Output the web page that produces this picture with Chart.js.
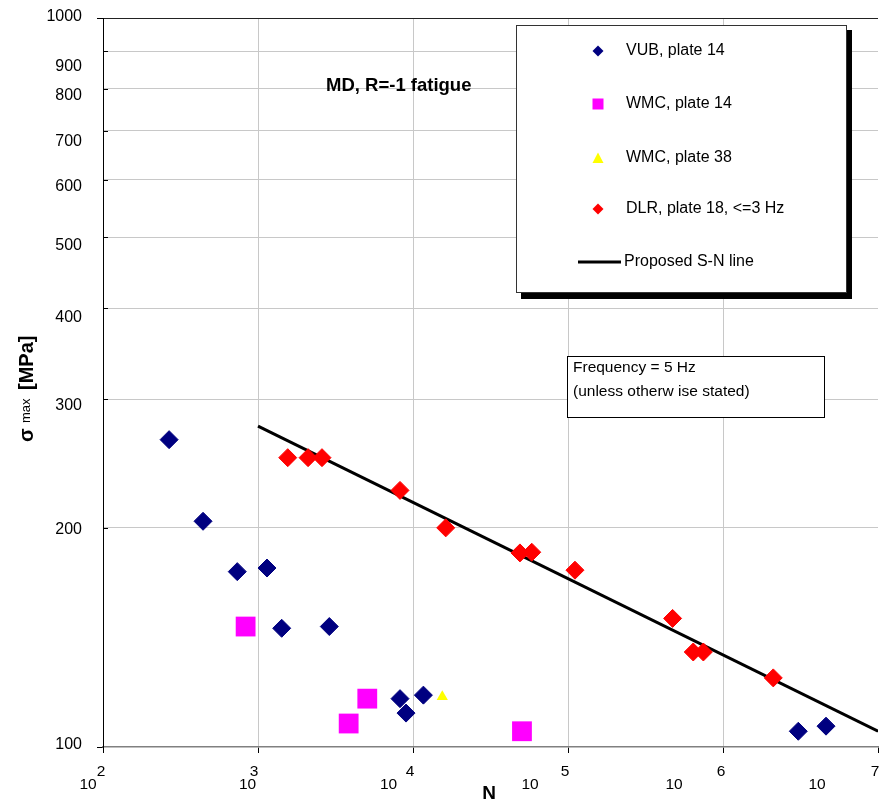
<!DOCTYPE html>
<html>
<head>
<meta charset="utf-8">
<title>MD, R=-1 fatigue</title>
<script src="https://cdn.jsdelivr.net/npm/chart.js@4.4.1/dist/chart.umd.min.js"></script>
<style>
  html, body { margin: 0; padding: 0; background: #fff; }
  #wrap { width: 880px; height: 807px; }
</style>
</head>
<body>
<div id="wrap"><canvas id="grafico" width="880" height="807"></canvas></div>
<script>
// =========================================================
// DATA  N = cycles, S = sigma max [MPa]
// =========================================================
const vubN = [267, 442, 735, 1143, 1422, 2884, 8245, 9016, 11670, 3060000, 4620000];
const vubS = [264, 204, 174, 176, 145.5, 146.3, 116.5, 111.3, 117.8, 105.1, 106.8];

const wmc14N = [832, 5070, 3845, 50470];
const wmc14S = [146.3, 116.5, 107.7, 105.1];

const wmc38N = [15450];
const wmc38S = [117.2];

const dlrN = [1556, 2104, 2587, 8245, 16260, 48980, 58350, 110900, 473000, 642700, 746800, 2110000];
const dlrS = [249.4, 249.4, 249.4, 224.9, 199.8, 184.6, 185, 174.8, 150.1, 135, 135, 124.4];

const lineN = [1000, 10000000];
const lineS = [275.5, 105.1];

const xTicks = [1e2, 1e3, 1e4, 1e5, 1e6, 1e7];
const xTickExp = ['2', '3', '4', '5', '6', '7'];
const yTicks = [100, 200, 300, 400, 500, 600, 700, 800, 900, 1000];

const seriesLabels = ['VUB, plate 14', 'WMC, plate 14', 'WMC, plate 38', 'DLR, plate 18, <=3 Hz', 'Proposed S-N line'];

// =========================================================
// STYLE / PLACEMENT (offsets of the hand-placed labels)
// =========================================================
const FONT = '"Liberation Sans", Arial, sans-serif';
const X_BASE_DX = [-15, -10.5, -24.5, -38, -49, -61];
const X_EXP_DX = [-2, -4, -3, -3, -2, -3];
const Y_LABEL_DY = [-2, 2, 6, 9, 8, 7, 11, 7, 15, -1];
const LEGEND_ROWS = [51, 104, 158, 209, 262];

const pts = (xs, ys) => xs.map((v, i) => ({ x: v, y: ys[i] }));

function drawMark(ctx, style, x, y, r, color) {
    ctx.save();
    ctx.fillStyle = color;
    ctx.beginPath();
    if (style === 'rectRot') {
        ctx.moveTo(x - r, y); ctx.lineTo(x, y - r); ctx.lineTo(x + r, y); ctx.lineTo(x, y + r);
    } else if (style === 'rect') {
        ctx.rect(x - r, y - r, 2 * r, 2 * r);
    } else if (style === 'triangle') {
        ctx.moveTo(x, y - r); ctx.lineTo(x + r, y + r * 0.9); ctx.lineTo(x - r, y + r * 0.9);
    }
    ctx.closePath();
    ctx.fill();
    ctx.restore();
}

// --- plugin: tick labels, titles, legend box, note box ---
const decoracao = {
    id: 'decoracao',
    afterDraw(chart) {
        const { ctx, scales: { x, y }, chartArea } = chart;
        ctx.save();
        ctx.fillStyle = '#000';

        // small inner ticks on the y axis
        ctx.strokeStyle = '#000';
        ctx.lineWidth = 1;
        yTicks.forEach(v => {
            if (v === 100 || v === 1000) return;
            const py = Math.round(y.getPixelForValue(v)) + 0.5;
            ctx.beginPath();
            ctx.moveTo(chartArea.left, py);
            ctx.lineTo(chartArea.left + 5, py);
            ctx.stroke();
        });

        // y tick labels
        ctx.font = '16px ' + FONT;
        ctx.textAlign = 'right';
        ctx.textBaseline = 'middle';
        yTicks.forEach((v, i) => {
            ctx.fillText(String(v), 82, y.getPixelForValue(v) + Y_LABEL_DY[i]);
        });

        // x tick labels: "10" with exponent
        ctx.textAlign = 'center';
        xTicks.forEach((v, i) => {
            const px = x.getPixelForValue(v);
            ctx.font = '15.5px ' + FONT;
            ctx.fillText('10', px + X_BASE_DX[i], 785);
            ctx.fillText(xTickExp[i], px + X_EXP_DX[i], 772);
        });

        // x axis title
        ctx.font = 'bold 19px ' + FONT;
        ctx.fillText('N', 489, 794);

        // y axis title (rotated)
        ctx.save();
        ctx.translate(33, 442);
        ctx.rotate(-Math.PI / 2);
        ctx.textAlign = 'left';
        ctx.textBaseline = 'alphabetic';
        ctx.font = 'bold 20px ' + FONT;
        ctx.fillText('σ', 0, 0);
        ctx.font = '13px ' + FONT;
        ctx.fillText('max', 19, -3);
        ctx.font = 'bold 20px ' + FONT;
        ctx.fillText('[MPa]', 52, 0);
        ctx.restore();

        // chart caption inside plot
        ctx.textAlign = 'left';
        ctx.textBaseline = 'middle';
        ctx.font = 'bold 18.5px ' + FONT;
        ctx.fillText('MD, R=-1 fatigue', 326, 86);

        // legend box with shadow
        ctx.fillStyle = '#000';
        ctx.fillRect(521, 30, 331, 269);
        ctx.fillStyle = '#fff';
        ctx.fillRect(516, 25, 331, 268);
        ctx.strokeStyle = '#333';
        ctx.lineWidth = 1;
        ctx.strokeRect(516.5, 25.5, 330, 267);

        chart.data.datasets.forEach((ds, i) => {
            const ry = LEGEND_ROWS[i];
            if (ds.showLine) {
                ctx.strokeStyle = ds.borderColor;
                ctx.lineWidth = 3;
                ctx.beginPath();
                ctx.moveTo(578, ry);
                ctx.lineTo(621, ry);
                ctx.stroke();
            } else {
                drawMark(ctx, ds.pointStyle, 598, ry, 5.5, ds.backgroundColor);
            }
            ctx.fillStyle = '#000';
            ctx.font = '16px ' + FONT;
            ctx.fillText(ds.label, ds.showLine ? 624 : 626, ry);
        });

        // frequency note
        ctx.fillStyle = '#fff';
        ctx.fillRect(567, 356, 258, 62);
        ctx.strokeStyle = '#000';
        ctx.lineWidth = 1;
        ctx.strokeRect(567.5, 356.5, 257, 61);
        ctx.fillStyle = '#000';
        ctx.font = '15.5px ' + FONT;
        ctx.fillText('Frequency = 5 Hz', 573, 368);
        ctx.fillText('(unless otherw ise stated)', 573, 392);

        ctx.restore();
    }
};

new Chart(document.getElementById('grafico'), {
    type: 'scatter',
    data: {
        datasets: [
            {
                label: seriesLabels[0],
                data: pts(vubN, vubS),
                pointStyle: 'rectRot',
                pointRadius: 9,
                backgroundColor: '#000080',
                borderColor: '#000080',
                borderWidth: 1,
                order: 0
            },
            {
                label: seriesLabels[1],
                data: pts(wmc14N, wmc14S),
                pointStyle: 'rect',
                pointRadius: 14,
                backgroundColor: '#FF00FF',
                borderColor: '#FF00FF',
                borderWidth: 0,
                order: 0
            },
            {
                label: seriesLabels[2],
                data: pts(wmc38N, wmc38S),
                pointStyle: 'triangle',
                pointRadius: 6.5,
                backgroundColor: '#FFFF00',
                borderColor: '#FFFF00',
                borderWidth: 0,
                order: 0
            },
            {
                label: seriesLabels[3],
                data: pts(dlrN, dlrS),
                pointStyle: 'rectRot',
                pointRadius: 9,
                backgroundColor: '#FF0000',
                borderColor: '#FF0000',
                borderWidth: 1,
                order: 0
            },
            {
                label: seriesLabels[4],
                data: pts(lineN, lineS),
                showLine: true,
                pointRadius: 0,
                borderColor: '#000000',
                backgroundColor: '#000000',
                borderWidth: 3,
                order: 1
            }
        ]
    },
    options: {
        responsive: false,
        animation: false,
        events: [],
        layout: { autoPadding: false, padding: { top: 18, right: 2, left: 0, bottom: 0 } },
        plugins: {
            legend: { display: false },
            tooltip: { enabled: false }
        },
        scales: {
            x: {
                type: 'logarithmic',
                min: 1e2,
                max: 1e7,
                afterBuildTicks: s => { s.ticks = xTicks.map(v => ({ value: v })); },
                afterFit: s => { s.height = 60; },
                ticks: { display: false },
                grid: {
                    color: c => (c.tick && (c.tick.value === 1e2 || c.tick.value === 1e7)) ? 'rgba(0,0,0,0)' : '#c8c8c8',
                    tickColor: '#000',
                    tickLength: 6,
                    lineWidth: 1
                },
                border: { color: '#808080', width: 1.5 }
            },
            y: {
                type: 'logarithmic',
                min: 100,
                max: 1000,
                afterBuildTicks: s => { s.ticks = yTicks.map(v => ({ value: v })); },
                afterFit: s => { s.width = 103; },
                ticks: { display: false },
                grid: {
                    color: c => {
                        if (!c.tick) return '#c8c8c8';
                        if (c.tick.value === 100) return 'rgba(0,0,0,0)';
                        if (c.tick.value === 1000) return '#222';
                        return '#c8c8c8';
                    },
                    tickColor: c => (c.tick && (c.tick.value === 100 || c.tick.value === 1000)) ? '#000' : 'rgba(0,0,0,0)',
                    tickLength: 6,
                    lineWidth: 1
                },
                border: { color: '#000', width: 1 }
            }
        }
    },
    plugins: [decoracao]
});
</script>
</body>
</html>
